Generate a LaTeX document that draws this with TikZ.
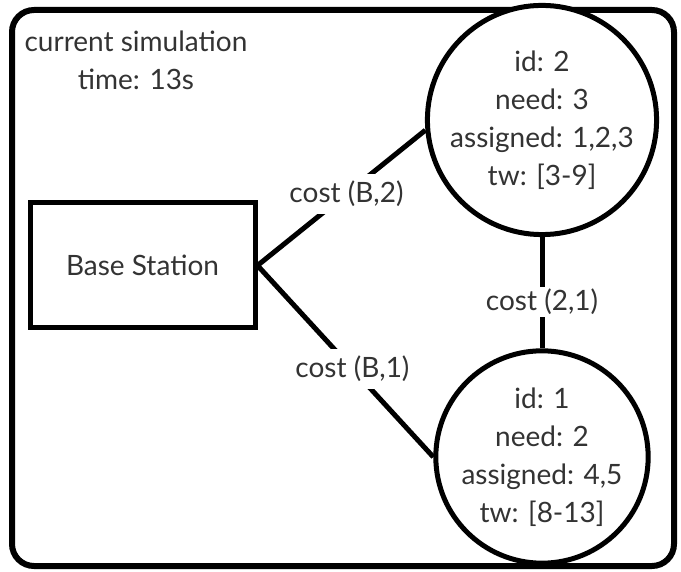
\documentclass[tikz,border=0pt]{standalone}
\usepackage{fontspec}
\setmainfont{Lato}
\definecolor{txt}{HTML}{333333}
\begin{document}
\begin{tikzpicture}[x=1pt,y=-1pt,
  every node/.style={text=txt,font=\fontsize{28}{38}\selectfont},
  conn/.style={line width=5pt,black},
  circ/.style={draw=black,line width=5pt,circle,minimum size=204pt,inner sep=0pt,align=center,fill=white},
  lbl/.style={fill=white,inner xsep=2pt,inner ysep=7pt}]
\useasboundingbox (0,0) rectangle (681,572);
\draw[line width=6pt,rounded corners=22pt] (12,10) rectangle (674,566);
\node[align=center] (title) at (136,60) {current simulation\\time: 13s};
\node[draw=black,line width=5pt,minimum width=225pt,minimum height=125pt,inner sep=0pt] (bs) at (142.5,265.5) {Base Station};
\node[circ] (n2) at (542,120) {id: 2\\need: 3\\assigned: 1,2,3\\tw: [3-9]};
\node[circ,minimum size=200pt] (n1) at (542,457) {id: 1\\need: 2\\assigned: 4,5\\tw: [8-13]};
\draw[conn] (bs.east) -- node[lbl,pos=0.53] (l1) {cost (B,2)} (n2.185);
\draw[conn] (bs.east) -- node[lbl,pos=0.54] (l2) {cost (B,1)} (n1.west);
\draw[conn] (n2.south) -- node[lbl,pos=0.58,inner ysep=2pt] (l3) {cost (2,1)} (n1.north);
\end{tikzpicture}
\end{document}
